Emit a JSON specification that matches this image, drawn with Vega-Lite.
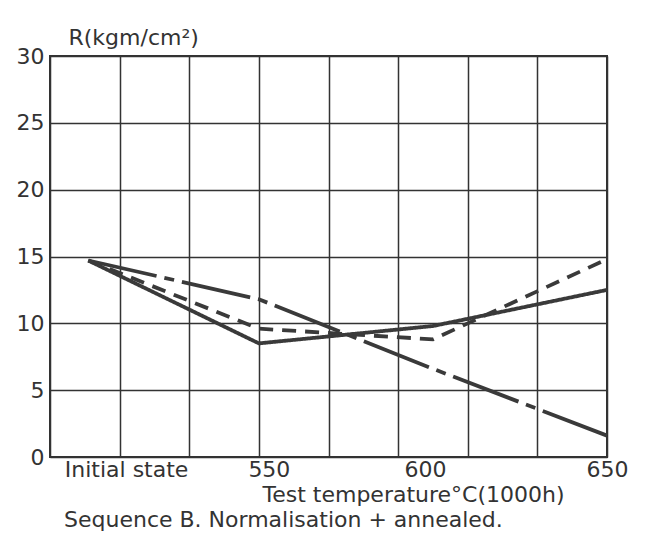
{
  "$schema": "https://vega.github.io/schema/vega-lite/v6.json",
  "width": 557,
  "height": 401,
  "autosize": {"type": "none"},
  "padding": {"left": 50, "top": 56, "right": 46, "bottom": 80},
  "background": "white",
  "config": {
    "font": "DejaVu Sans",
    "view": {"stroke": "#333333", "strokeWidth": 2},
    "axis": {"labelFont": "DejaVu Sans", "titleFont": "DejaVu Sans", "labelColor": "#333333", "titleColor": "#333333"}
  },
  "title": {
    "text": "Sequence B. Normalisation + annealed.",
    "orient": "bottom",
    "anchor": "start",
    "offset": 5,
    "dx": 48,
    "fontSize": 22,
    "fontWeight": "normal",
    "color": "#333333",
    "font": "DejaVu Sans"
  },
  "data": {
    "values": [
      {"series": "A", "temp": 501, "R": 14.7},
      {"series": "A", "temp": 550, "R": 8.5},
      {"series": "A", "temp": 600, "R": 9.8},
      {"series": "A", "temp": 650, "R": 12.5},
      {"series": "B", "temp": 501, "R": 14.7},
      {"series": "B", "temp": 550, "R": 9.6},
      {"series": "B", "temp": 600, "R": 8.8},
      {"series": "B", "temp": 650, "R": 14.8},
      {"series": "C", "temp": 501, "R": 14.7},
      {"series": "C", "temp": 550, "R": 11.8},
      {"series": "C", "temp": 600, "R": 6.6},
      {"series": "C", "temp": 650, "R": 1.6}
    ]
  },
  "mark": {"type": "line", "strokeWidth": 3.8, "color": "#3a3a3a", "strokeCap": "butt"},
  "encoding": {
    "x": {
      "field": "temp",
      "type": "quantitative",
      "scale": {"domain": [490, 650], "nice": false, "zero": false},
      "axis": {
        "values": [490, 501, 510, 530, 550, 570, 590, 600, 610, 630, 650],
        "labelExpr": "datum.value == 501 ? 'Initial state' : ((datum.value == 550 || datum.value == 600 || datum.value == 650) ? datum.label : '')",
        "labelAlign": {"condition": {"test": "datum.value == 501", "value": "left"}, "value": "center"},
        "labelOffset": {"condition": [{"test": "datum.value == 501", "value": -24}, {"test": "datum.value == 550", "value": 10}, {"test": "datum.value == 600", "value": -8}], "value": 0},
        "labelFontSize": 22,
        "labelPadding": 2,
        "ticks": false,
        "domain": false,
        "grid": true,
        "gridColor": "#333333",
        "gridWidth": 1.5,
        "gridOpacity": {"condition": {"test": "datum.value == 501 || datum.value == 600", "value": 0}, "value": 1},
        "labelOverlap": false,
        "labelBound": false,
        "labelFlush": false,
        "title": "Test temperature°C(1000h)",
        "titleFontSize": 22,
        "titleFontWeight": "normal",
        "titleAnchor": "start",
        "titleAlign": "left",
        "titleBaseline": "top",
        "titleX": 212,
        "titleY": 27
      }
    },
    "y": {
      "field": "R",
      "type": "quantitative",
      "scale": {"domain": [0, 30], "nice": false},
      "axis": {
        "values": [0, 5, 10, 15, 20, 25, 30],
        "labelFontSize": 22,
        "labelPadding": 6,
        "ticks": false,
        "domain": false,
        "grid": true,
        "gridColor": "#333333",
        "gridWidth": 1.5,
        "gridOpacity": 1,
        "title": "R(kgm/cm²)",
        "titleAngle": 0,
        "titleFontSize": 22,
        "titleFontWeight": "normal",
        "titleAlign": "left",
        "titleBaseline": "alphabetic",
        "titleX": 18,
        "titleY": -12
      }
    },
    "detail": {"field": "series"},
    "strokeDash": {
      "field": "series",
      "type": "nominal",
      "scale": {"domain": ["A", "B", "C"], "range": [[1, 0], [14, 9], [70, 8, 10, 8]]},
      "legend": null
    }
  }
}
